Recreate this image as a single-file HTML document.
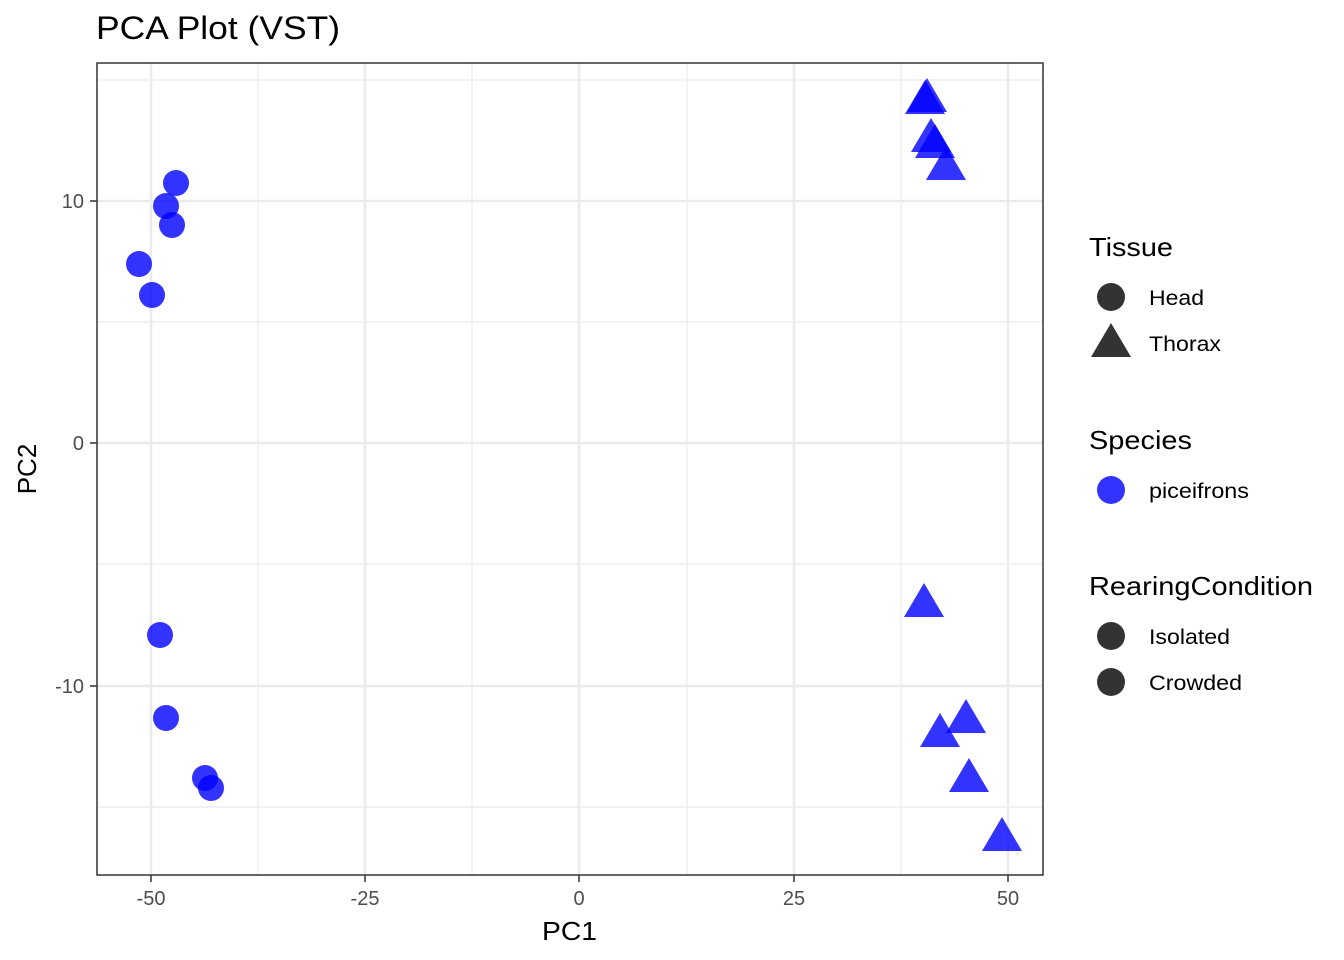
<!DOCTYPE html>
<html><head><meta charset="utf-8"><style>html,body{margin:0;padding:0;background:#fff}svg{display:block}</style></head>
<body>
<svg width="1344" height="960" xmlns="http://www.w3.org/2000/svg" font-family="Liberation Sans, Arial, sans-serif">
<rect width="1344" height="960" fill="#fff"/>
<text x="96" y="39" font-size="32" fill="#000" textLength="244" lengthAdjust="spacingAndGlyphs">PCA Plot (VST)</text>
<g stroke="#ebebeb">
<g stroke-width="1.2">
<line x1="258" y1="63" x2="258" y2="875"/><line x1="472" y1="63" x2="472" y2="875"/>
<line x1="687" y1="63" x2="687" y2="875"/><line x1="901" y1="63" x2="901" y2="875"/>
<line x1="97" y1="80" x2="1043" y2="80"/><line x1="97" y1="322" x2="1043" y2="322"/>
<line x1="97" y1="564" x2="1043" y2="564"/><line x1="97" y1="807" x2="1043" y2="807"/>
</g>
<g stroke-width="2.5">
<line x1="151" y1="63" x2="151" y2="875"/><line x1="365" y1="63" x2="365" y2="875"/>
<line x1="579" y1="63" x2="579" y2="875"/><line x1="794" y1="63" x2="794" y2="875"/>
<line x1="1008" y1="63" x2="1008" y2="875"/>
<line x1="97" y1="201" x2="1043" y2="201"/><line x1="97" y1="443" x2="1043" y2="443"/>
<line x1="97" y1="686" x2="1043" y2="686"/>
</g></g>
<g fill="#0000ff" fill-opacity="0.8">
<circle cx="176" cy="183" r="13"/><circle cx="166" cy="206" r="13"/><circle cx="172" cy="225" r="13"/>
<circle cx="139" cy="264" r="13"/><circle cx="152" cy="295" r="13"/><circle cx="160" cy="635" r="13"/>
<circle cx="166" cy="718" r="13"/><circle cx="205" cy="778" r="13"/><circle cx="211" cy="788" r="13"/>
<path d="M927,78 l20,34 h-40z"/><path d="M925,80 l20,34 h-40z"/>
<path d="M931,118 l20,34 h-40z"/><path d="M935,124 l20,34 h-40z"/>
<path d="M946,146 l20,34 h-40z"/><path d="M924,583 l20,34 h-40z"/>
<path d="M966,699 l20,34 h-40z"/><path d="M940,713 l20,34 h-40z"/>
<path d="M969,758 l20,34 h-40z"/><path d="M1002,817 l20,34 h-40z"/>
</g>
<rect x="97" y="63" width="946" height="812" fill="none" stroke="#333" stroke-width="1.5"/>
<g stroke="#333" stroke-width="1.5">
<line x1="151" y1="875" x2="151" y2="882"/><line x1="365" y1="875" x2="365" y2="882"/>
<line x1="579" y1="875" x2="579" y2="882"/><line x1="794" y1="875" x2="794" y2="882"/>
<line x1="1008" y1="875" x2="1008" y2="882"/>
<line x1="90" y1="201" x2="97" y2="201"/><line x1="90" y1="443" x2="97" y2="443"/><line x1="90" y1="686" x2="97" y2="686"/>
</g>
<g font-size="20" fill="#4d4d4d" text-anchor="middle">
<text x="151" y="905">-50</text><text x="365" y="905">-25</text><text x="579" y="905">0</text>
<text x="794" y="905">25</text><text x="1008" y="905">50</text>
</g>
<g font-size="20" fill="#4d4d4d" text-anchor="end">
<text x="84" y="208">10</text><text x="84" y="450">0</text><text x="84" y="693">-10</text>
</g>
<text x="542" y="940" font-size="26" textLength="55" lengthAdjust="spacingAndGlyphs">PC1</text>
<text transform="translate(36,469) rotate(-90)" font-size="26" text-anchor="middle">PC2</text>
<g font-size="26" fill="#000" lengthAdjust="spacingAndGlyphs">
<text x="1089" y="256" textLength="84" lengthAdjust="spacingAndGlyphs">Tissue</text>
<text x="1089" y="449" textLength="103" lengthAdjust="spacingAndGlyphs">Species</text>
<text x="1089" y="595" textLength="224" lengthAdjust="spacingAndGlyphs">RearingCondition</text>
</g>
<g font-size="21" fill="#000">
<text x="1149" y="305" textLength="55" lengthAdjust="spacingAndGlyphs">Head</text>
<text x="1149" y="351" textLength="72" lengthAdjust="spacingAndGlyphs">Thorax</text>
<text x="1149" y="498" textLength="100" lengthAdjust="spacingAndGlyphs">piceifrons</text>
<text x="1149" y="644" textLength="81" lengthAdjust="spacingAndGlyphs">Isolated</text>
<text x="1149" y="690" textLength="93" lengthAdjust="spacingAndGlyphs">Crowded</text>
</g>
<circle cx="1111" cy="297" r="14" fill="#000" fill-opacity="0.8"/>
<path d="M1111,323 l20,34 h-40z" fill="#000" fill-opacity="0.8"/>
<circle cx="1111" cy="490" r="14" fill="#0000ff" fill-opacity="0.8"/>
<circle cx="1111" cy="636" r="14" fill="#000" fill-opacity="0.8"/>
<circle cx="1111" cy="682" r="14" fill="#000" fill-opacity="0.8"/>
</svg>
</body></html>
